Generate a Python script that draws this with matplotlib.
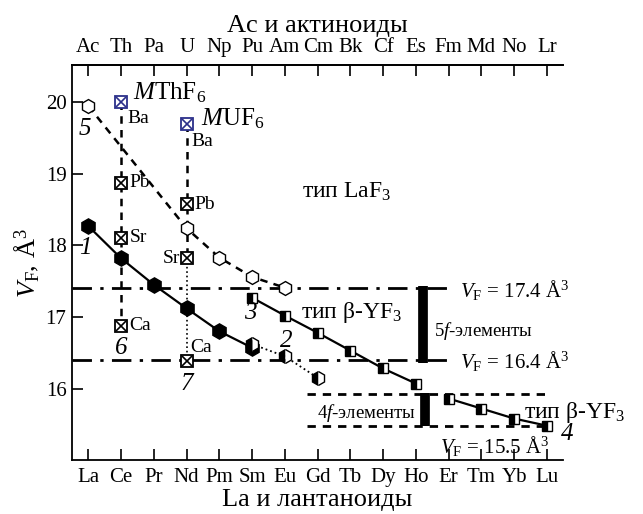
import matplotlib
matplotlib.use("Agg")
import matplotlib.pyplot as plt
import numpy as np

plt.rcParams["font.family"] = ["Liberation Serif", "DejaVu Serif"]
plt.rcParams["mathtext.fontset"] = "custom"
plt.rcParams["mathtext.rm"] = "Liberation Serif"
plt.rcParams["mathtext.it"] = "Liberation Serif:italic"
plt.rcParams["mathtext.bf"] = "Liberation Serif:bold"

lanthanides = ["La", "Ce", "Pr", "Nd", "Pm", "Sm", "Eu", "Gd", "Tb", "Dy", "Ho", "Er", "Tm", "Yb", "Lu"]
actinides = ["Ac", "Th", "Pa", "U", "Np", "Pu", "Am", "Cm", "Bk", "Cf", "Es", "Fm", "Md", "No", "Lr"]

# series positions are indices along the La..Lu axis
s1_x = [0, 1, 2, 3, 4, 5]
s1_y = [18.27, 17.82, 17.45, 17.12, 16.80, 16.57]
s2_x = [5, 6, 7]
s2_y = [16.62, 16.45, 16.15]
s3_x = [5, 6, 7, 8, 9, 10]
s3_y = [17.27, 17.02, 16.78, 16.53, 16.28, 16.07]
s4_x = [11, 12, 13, 14]
s4_y = [15.86, 15.72, 15.58, 15.48]
s5_x = [0, 3, 4, 5, 6]
s5_y = [19.95, 18.24, 17.83, 17.56, 17.41]

# MThF6 (Th column) and MUF6 (U column): Ba, Pb, Sr, Ca
cations = ["Ba", "Pb", "Sr", "Ca"]
th_y = [20.00, 18.88, 18.11, 16.88]
u_y = [19.70, 18.58, 17.82, 16.38]
th_x = 1
u_x = 3

vf_levels = [17.4, 16.4]
f4_levels = [15.93, 15.48]

fig = plt.figure(figsize=(6.43, 5.14), dpi=100)
ax = fig.add_axes([0.112, 0.105, 0.764, 0.768])
ax.set_xlim(-0.5, 14.5)
ax.set_ylim(15.0, 20.52)

dashdot = (0, (7, 3, 1.2, 3))
dashed = (0, (3, 2.5))

# reference levels
for lv in vf_levels:
    ax.plot([-0.5, 11.1], [lv, lv], color="black", lw=2.0, ls=dashdot, zorder=1)
for lv in f4_levels:
    ax.plot([6.68, 14.02], [lv, lv], color="black", lw=2.0, ls=dashed, zorder=1)
ax.plot([10.22, 10.22], [17.44, 16.35], color="black", lw=7, solid_capstyle="butt", zorder=2)
ax.plot([10.28, 10.28], [15.94, 15.48], color="black", lw=7, solid_capstyle="butt", zorder=2)

# vertical lines through MThF6 and MUF6
ax.plot([th_x] * 4, th_y, color="black", lw=1.8, ls=dashed, zorder=2)
ax.plot([u_x] * 3, u_y[:3], color="black", lw=1.8, ls=dashed, zorder=2)
ax.plot([u_x, u_x], u_y[2:], color="black", lw=1.2, ls=":", zorder=2)

# series
ax.plot(s5_x, s5_y, color="black", lw=1.8, ls=dashed, marker="h", ms=10,
        mfc="white", mec="black", mew=1.0, zorder=3)
ax.plot(s1_x, s1_y, color="black", lw=1.6, marker="h", ms=11,
        mfc="black", mec="black", zorder=3)
ax.plot(s2_x, s2_y, color="black", lw=1.3, ls=":", marker="h", ms=10,
        fillstyle="left", mfc="black", mfcalt="white", mec="black", mew=1.0, zorder=4)
ax.plot(s3_x, s3_y, color="black", lw=1.6, marker="s", ms=7.5,
        fillstyle="left", mfc="black", mfcalt="white", mec="black", mew=1.0, zorder=3)
ax.plot(s4_x, s4_y, color="black", lw=1.6, marker="s", ms=7.5,
        fillstyle="left", mfc="black", mfcalt="white", mec="black", mew=1.0, zorder=3)

for xx, ys in [(th_x, th_y), (u_x, u_y)]:
    for k, yy in enumerate(ys):
        c = "#2b2f8a" if k == 0 else "black"
        ax.plot(xx, yy, marker="s", ms=8, mfc="white", mec=c, mew=1.3, zorder=5)
        ax.plot(xx, yy, marker="x", ms=7.5, mec=c, mew=1.2, zorder=6)

# cation labels
fs_c = 14
ax.text(1.19, 19.78, "Ba", fontsize=fs_c, va="center", ha="left")
ax.text(1.25, th_y[1], "Pb", fontsize=fs_c, va="center", ha="left")
ax.text(1.25, th_y[2], "Sr", fontsize=fs_c, va="center", ha="left")
ax.text(1.25, th_y[3], "Ca", fontsize=fs_c, va="center", ha="left")
ax.text(3.15, 19.46, "Ba", fontsize=fs_c, va="center", ha="left")
ax.text(3.25, u_y[1], "Pb", fontsize=fs_c, va="center", ha="left")
ax.text(2.8, u_y[2], "Sr", fontsize=fs_c, va="center", ha="right")
ax.text(3.1, 16.58, "Ca", fontsize=fs_c, va="center", ha="left")

ax.text(1.37, 20.14, r"$M\mathrm{ThF}_6$", fontsize=18, va="center", ha="left")
ax.text(3.45, 19.77, r"$M\mathrm{UF}_6$", fontsize=18, va="center", ha="left")

# curve numbers
for txt, xx, yy in [("1", -0.1, 17.96), ("5", -0.1, 19.63), ("6", 1.0, 16.57),
                    ("7", 3.0, 16.07), ("3", 4.95, 17.05), ("2", 6.05, 16.67),
                    ("4", 14.62, 15.36)]:
    ax.text(xx, yy, txt, fontsize=18, style="italic", ha="center", va="center")

ax.text(7.9, 18.75, "тип LaF$_3$", fontsize=17, ha="center", va="center")
ax.text(6.5, 17.06, "тип β-YF$_3$", fontsize=17, ha="left", va="center")
ax.text(13.3, 15.67, "тип β-YF$_3$", fontsize=17, ha="left", va="center", clip_on=False)
ax.text(10.55, 16.80, "5$f$-элементы", fontsize=13.5, ha="left", va="center")
ax.text(10.0, 15.66, "4$f$-элементы", fontsize=13.5, ha="right", va="center")
ax.text(11.35, 17.38, r"$V_{\mathrm{F}}$ = 17.4 Å$^3$", fontsize=15, ha="left", va="center", clip_on=False)
ax.text(11.35, 16.38, r"$V_{\mathrm{F}}$ = 16.4 Å$^3$", fontsize=15, ha="left", va="center", clip_on=False)
ax.text(12.4, 15.2, r"$V_{\mathrm{F}}$ = 15.5 Å$^3$", fontsize=15, ha="center", va="center")

# axes
ax.spines["right"].set_visible(False)
ax.set_xticks(range(len(lanthanides)))
ax.set_xticklabels(lanthanides)
ax.set_yticks([16, 17, 18, 19, 20])
ax.tick_params(axis="both", direction="in", length=8, width=1.2, labelsize=15, pad=6)
ax.tick_params(axis="y", pad=4)
for sp in ax.spines.values():
    sp.set_linewidth(1.3)
ax.set_xlabel("La и лантаноиды", fontsize=19, labelpad=1)
ax.set_ylabel(r"$V_{\mathrm{F}}$, Å$^3$", fontsize=19, labelpad=3)

top = ax.secondary_xaxis("top")
top.set_xticks(range(len(actinides)))
top.set_xticklabels(actinides)
top.tick_params(direction="in", length=8, width=1.2, labelsize=15, pad=6)
top.spines["top"].set_linewidth(1.3)
top.set_xlabel("Ac и актиноиды", fontsize=19, labelpad=4)

fig.savefig("out.png", dpi=100)
